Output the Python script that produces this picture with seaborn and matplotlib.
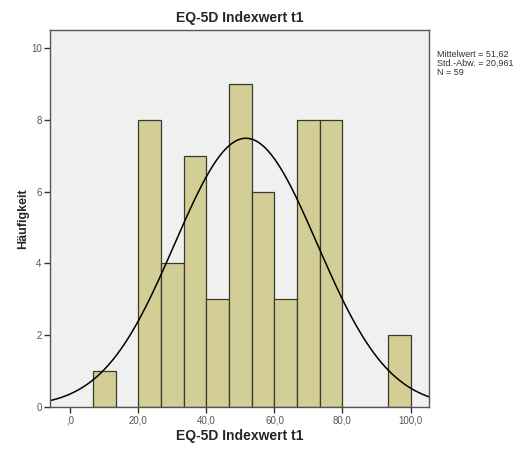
import numpy as np
import pandas as pd
import matplotlib
matplotlib.use("Agg")
import matplotlib.pyplot as plt
import seaborn as sns

# histogram counts per bin (bin width 20/3)
bin_edges = [20 / 3 * k for k in range(1, 16)]
counts = [1, 0, 8, 4, 7, 3, 9, 6, 3, 8, 8, 0, 0, 2]
mean_val = 51.62
sd_val = 20.961
n_val = 59
x_ticks = [0, 20, 40, 60, 80, 100]
x_tick_labels = [",0", "20,0", "40,0", "60,0", "80,0", "100,0"]
y_ticks = [0, 2, 4, 6, 8, 10]

centers = [(bin_edges[i] + bin_edges[i + 1]) / 2 for i in range(len(counts))]
df = pd.DataFrame({"wert": centers, "n": counts})

sns.set_theme(style="white")
plt.rcParams['font.family'] = ['Liberation Sans', 'DejaVu Sans']

fig = plt.figure(figsize=(5.26, 4.5), dpi=100)
ax = fig.add_axes([0.095, 0.096, 0.721, 0.837])
ax.set_facecolor("#f0f0f0")

sns.histplot(data=df, x="wert", weights="n", bins=bin_edges, ax=ax,
             color="#d3ce96", edgecolor="#3a3a2a", linewidth=0.9, alpha=1)

xlim = (-6, 105.5)
xs = np.linspace(xlim[0], xlim[1], 400)
width = bin_edges[1] - bin_edges[0]
ys = n_val * width / (sd_val * np.sqrt(2 * np.pi)) * np.exp(-0.5 * ((xs - mean_val) / sd_val) ** 2)
ax.plot(xs, ys, color="black", linewidth=1.1)

ax.set_xlim(*xlim)
ax.set_ylim(0, 10.5)
ax.set_xticks(x_ticks)
ax.set_xticklabels(x_tick_labels)
ax.set_yticks(y_ticks)
ax.tick_params(axis="both", direction="out", length=4, width=1, color="#333333",
               labelsize=7, labelcolor="#555555", bottom=True, left=True, pad=2)
for s in ax.spines.values():
    s.set_color("#555555")
    s.set_linewidth(1)

ax.set_title("EQ-5D Indexwert t1", fontsize=10, fontweight="bold", pad=6)
ax.set_xlabel("EQ-5D Indexwert t1", fontsize=10, fontweight="bold", labelpad=3)
ax.set_ylabel("Häufigkeit", fontsize=9, fontweight="bold")
ax.yaxis.set_label_coords(-0.055, 0.5)

fig.text(0.831, 0.89, "Mittelwert = 51,62\nStd.-Abw. = 20,961\nN = 59",
         fontsize=6.5, color="#333333", va="top", ha="left", linespacing=1.05)

fig.savefig("out.png", dpi=100)
print("Saved out.png")
